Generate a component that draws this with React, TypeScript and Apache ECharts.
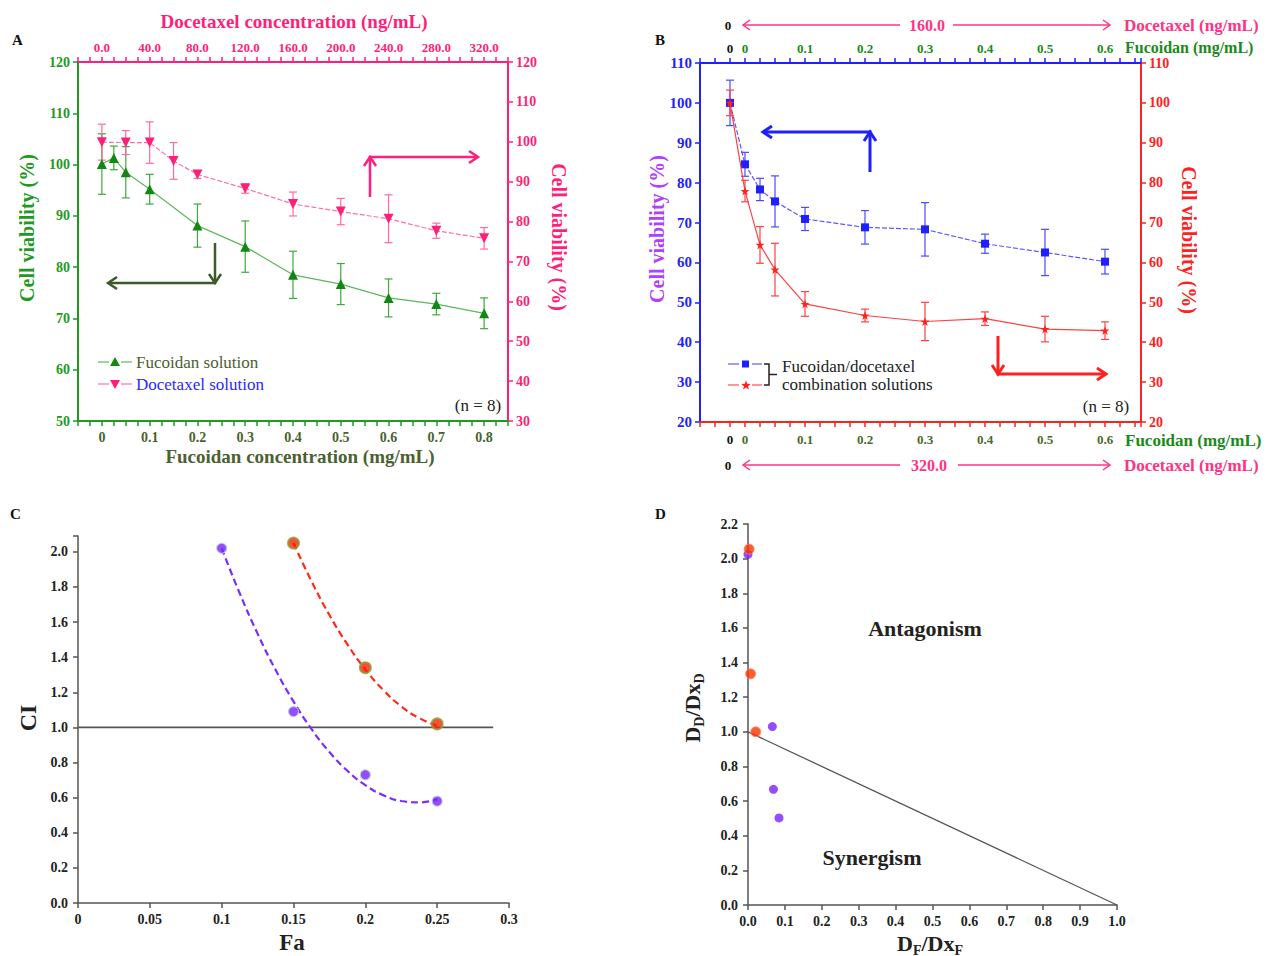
import React, { useEffect, useRef } from 'react';
import * as echarts from 'echarts';

// ---------------- Panel A ----------------
const fucoidanConc = [0, 0.025, 0.05, 0.1, 0.2, 0.3, 0.4, 0.5, 0.6, 0.7, 0.8];
const fucoidanViability = [100.1, 101.3, 98.5, 95.2, 88.1, 84.0, 78.5, 76.7, 74.0, 72.8, 71.0];
const fucoidanSD = [5.9, 2.3, 5.0, 2.9, 4.2, 5.0, 4.6, 4.0, 3.7, 2.1, 3.0];
const docetaxelConc = [0, 20, 40, 60, 80, 120, 160, 200, 240, 280, 320];
const docetaxelViability = [99.9, 99.8, 99.8, 95.2, 91.8, 88.3, 84.4, 82.5, 80.7, 77.7, 75.8];
const docetaxelSD = [4.5, 3.0, 5.2, 4.6, 1.0, 1.2, 3.0, 3.3, 6.0, 1.9, 2.7];

// ---------------- Panel B ----------------
// first position (-0.025) is the untreated control ("0" / "0")
const comboFucoidan = [-0.025, 0, 0.025, 0.05, 0.1, 0.2, 0.3, 0.4, 0.5, 0.6];
const comboLeft = [100, 84.6, 78.3, 75.3, 70.9, 68.8, 68.3, 64.7, 62.5, 60.2];
const comboLeftSD = [5.7, 3.0, 2.8, 6.4, 2.9, 4.2, 6.7, 2.4, 5.8, 3.1];
const comboRight = [100, 77.9, 64.4, 58.2, 49.6, 46.7, 45.2, 45.9, 43.3, 42.9];
const comboRightSD = [3.2, 2.7, 4.6, 6.6, 3.1, 1.6, 4.8, 1.7, 3.2, 2.2];

// ---------------- Panel C ----------------
const faPurple = [0.1, 0.15, 0.2, 0.25];
const ciPurple = [2.02, 1.09, 0.73, 0.58];
const faRed = [0.15, 0.2, 0.25];
const ciRed = [2.05, 1.34, 1.02];
const fitPurpleFa = [0.1, 0.1125, 0.125, 0.1375, 0.15, 0.1625, 0.175, 0.1875, 0.2, 0.2125, 0.225, 0.2375, 0.25];
const fitPurpleCi = [2.02, 1.765, 1.534, 1.328, 1.148, 0.991, 0.86, 0.753, 0.671, 0.614, 0.581, 0.573, 0.59];
const fitRedFa = [0.15, 0.1625, 0.175, 0.1875, 0.2, 0.2125, 0.225, 0.2375, 0.25];
const fitRedCi = [2.05, 1.833, 1.64, 1.473, 1.33, 1.213, 1.12, 1.053, 1.01];
const ciRefFa = [0, 0.289];
const ciRefValue = [1.0, 1.0];

// ---------------- Panel D ----------------
const dRedX = [0.003, 0.007, 0.021];
const dRedY = [2.055, 1.335, 1.0];
const dPurpleX = [0.0, 0.066, 0.069, 0.084];
const dPurpleY = [2.025, 1.03, 0.668, 0.503];
const isoboleX = [0, 1];
const isoboleY = [1, 0];

const SERIF = '"Liberation Serif", "Times New Roman", serif';
const GREEN = '#1f9a1f';
const OLIVE = '#4b6130';
const PINK = '#ff1f7a';
const BLUE = '#1f1fff';
const RED = '#ff2020';
const PURPLE = '#b040ff';
const GRAY = '#555555';

const font = (size: number, bold = true) => `${bold ? 'bold ' : ''}${size}px ${SERIF}`;

const zip = (xs: number[], ys: number[]) => xs.map((x, i) => [x, ys[i]]);

function errorSeries(xs: number[], ys: number[], sd: number[], xi: number, yi: number, color: string) {
  return {
    type: 'custom',
    xAxisIndex: xi,
    yAxisIndex: yi,
    silent: true,
    z: 1,
    data: xs.map((x, i) => [x, ys[i] - sd[i], ys[i] + sd[i]]),
    encode: { x: 0, y: [1, 2] },
    renderItem: (_p: any, api: any) => {
      const lo = api.coord([api.value(0), api.value(1)]);
      const hi = api.coord([api.value(0), api.value(2)]);
      const w = 4;
      const st = { stroke: color, lineWidth: 1.2 };
      return {
        type: 'group',
        children: [
          { type: 'line', shape: { x1: lo[0], y1: lo[1], x2: hi[0], y2: hi[1] }, style: st },
          { type: 'line', shape: { x1: lo[0] - w, y1: lo[1], x2: lo[0] + w, y2: lo[1] }, style: st },
          { type: 'line', shape: { x1: hi[0] - w, y1: hi[1], x2: hi[0] + w, y2: hi[1] }, style: st },
        ],
      };
    },
  };
}

function txt(text: string, x: number, y: number, color: string, f: string, align = 'center', rotation = 0) {
  return {
    type: 'text',
    x,
    y,
    rotation,
    z: 100,
    style: { text, fill: color, font: f, textAlign: align, textVerticalAlign: 'middle' },
  };
}

function head(tx: number, ty: number, dx: number, dy: number, color: string, width: number, L = 9, W = 6) {
  const bx = tx - L * dx;
  const by = ty - L * dy;
  const nx = -dy;
  const ny = dx;
  return {
    type: 'polyline',
    z: 100,
    shape: { points: [[bx + W * nx, by + W * ny], [tx, ty], [bx - W * nx, by - W * ny]] },
    style: { stroke: color, lineWidth: width, fill: null, lineJoin: 'miter' },
  };
}

function pline(points: number[][], color: string, width: number, dash?: number[]) {
  return {
    type: 'polyline',
    z: 100,
    shape: { points },
    style: { stroke: color, lineWidth: width, fill: null, lineDash: dash },
  };
}

function starPoints(cx: number, cy: number, r: number) {
  const pts: number[][] = [];
  for (let i = 0; i < 10; i++) {
    const a = -Math.PI / 2 + (i * Math.PI) / 5;
    const rr = i % 2 === 0 ? r : r * 0.42;
    pts.push([cx + rr * Math.cos(a), cy + rr * Math.sin(a)]);
  }
  return pts;
}

const STAR = 'path://M50,0 L61,35 L98,35 L68,57 L79,91 L50,70 L21,91 L32,57 L2,35 L39,35 Z';

function valueAxis(extra: any, color: string, labelColor: string, fontSize: number, lineWidth = 2) {
  return {
    type: 'value',
    splitLine: { show: false },
    axisLine: { show: true, onZero: false, lineStyle: { color, width: lineWidth } },
    axisTick: { show: true, inside: false, length: 5, lineStyle: { color, width: 1.5 } },
    ...extra,
    axisLabel: {
      color: labelColor,
      fontFamily: SERIF,
      fontWeight: 'bold',
      fontSize,
      margin: 8,
      ...(extra.axisLabel || {}),
    },
  };
}

const fmtA = (v: number) => {
  const r = Math.round(v * 1000);
  if (r < 0 || r % 100 !== 0) return '';
  return r === 0 ? '0' : String(r / 1000);
};
const fmtATop = (v: number) => {
  const r = Math.round(v);
  return r >= 0 && r % 40 === 0 ? r.toFixed(1) : '';
};
const fmtB = (v: number) => {
  const r = Math.round(v * 1000);
  if (r === -25) return '{k|0}';
  if (r < 0 || r % 100 !== 0) return '';
  return '{g|' + (r === 0 ? '0' : String(r / 1000)) + '}';
};
const fmtTenth2 = (v: number) => {
  const r = Math.round(v * 10);
  if (Math.abs(v * 10 - r) > 1e-6 || r % 2 !== 0) return '';
  return (r / 10).toFixed(1);
};

export default function App() {
  const ref = useRef<HTMLDivElement>(null);

  useEffect(() => {
    if (!ref.current) return;
    const chart = echarts.init(ref.current, undefined, { renderer: 'svg' });

    const richB = (g: string) => ({
      k: { color: '#111', fontFamily: SERIF, fontWeight: 'bold', fontSize: 13 },
      g: { color: g, fontFamily: SERIF, fontWeight: 'bold', fontSize: 13 },
    });

    const graphics: any[] = [
      // panel letters
      txt('A', 12, 40, '#111', font(15), 'left'),
      txt('B', 655, 40, '#111', font(15), 'left'),
      txt('C', 10, 514, '#111', font(15), 'left'),
      txt('D', 655, 514, '#111', font(15), 'left'),

      // ---- A titles ----
      txt('Docetaxel concentration (ng/mL)', 294, 21, PINK, font(19)),
      txt('Fucoidan concentration (mg/mL)', 300, 456, OLIVE, font(19)),
      txt('Cell viability (%)', 27, 228, GREEN, font(20), 'center', Math.PI / 2),
      txt('Cell viability (%)', 559, 237, PINK, font(20), 'center', -Math.PI / 2),
      // A legend
      pline([[98, 362], [109, 362]], '#5cb85c', 1.2),
      pline([[121, 362], [132, 362]], '#5cb85c', 1.2),
      { type: 'polygon', z: 100, shape: { points: [[115, 357], [110, 366], [120, 366]] }, style: { fill: '#118811' } },
      txt('Fucoidan solution', 136, 362, OLIVE, font(17, false), 'left'),
      pline([[98, 384], [109, 384]], '#ff70a8', 1.2),
      pline([[121, 384], [132, 384]], '#ff70a8', 1.2),
      { type: 'polygon', z: 100, shape: { points: [[110, 380], [120, 380], [115, 389]] }, style: { fill: PINK } },
      txt('Docetaxel solution', 136, 384, '#2a2aff', font(17, false), 'left'),
      txt('(n = 8)', 478, 405, '#222', font(17, false)),
      // A arrows
      pline([[370, 197], [370, 157], [476, 157]], PINK, 2.5),
      head(370, 157, 0, -1, PINK, 2.5),
      head(478, 157, 1, 0, PINK, 2.5),
      pline([[215, 243], [215, 283], [110, 283]], '#3d5a2a', 2.5),
      head(215, 283, 0, 1, '#3d5a2a', 2.5),
      head(108, 283, -1, 0, '#3d5a2a', 2.5),

      // ---- B titles ----
      txt('Cell viability (%)', 657, 229, PURPLE, font(20), 'center', Math.PI / 2),
      txt('Cell viability (%)', 1189, 240, RED, font(20), 'center', -Math.PI / 2),
      // B top rows
      txt('0', 728, 25, '#111', font(13)),
      pline([[743, 25], [900, 25]], '#ff3385', 1.5),
      head(743, 25, -1, 0, '#ff3385', 1.5, 7, 5),
      txt('160.0', 927, 25, '#ff3385', font(16)),
      pline([[953, 25], [1110, 25]], '#ff3385', 1.5),
      head(1110, 25, 1, 0, '#ff3385', 1.5, 7, 5),
      txt('Docetaxel (ng/mL)', 1124, 25, '#ff3385', font(17), 'left'),
      txt('Fucoidan (mg/mL)', 1125, 47, '#1a8a1a', font(16), 'left'),
      // B bottom rows
      txt('Fucoidan (mg/mL)', 1125, 440, '#1a8a1a', font(17), 'left'),
      txt('0', 728, 465, '#111', font(13)),
      pline([[743, 465], [900, 465]], '#ff3385', 1.5),
      head(743, 465, -1, 0, '#ff3385', 1.5, 7, 5),
      txt('320.0', 929, 465, '#ff3385', font(16)),
      pline([[958, 465], [1110, 465]], '#ff3385', 1.5),
      head(1110, 465, 1, 0, '#ff3385', 1.5, 7, 5),
      txt('Docetaxel (ng/mL)', 1124, 465, '#ff3385', font(17), 'left'),
      // B legend
      pline([[728, 364], [739, 364]], '#5a5aff', 1.2),
      pline([[752, 364], [762, 364]], '#5a5aff', 1.2),
      { type: 'rect', z: 100, shape: { x: 742, y: 360.5, width: 7, height: 7 }, style: { fill: BLUE } },
      pline([[728, 385], [739, 385]], '#ff5050', 1.2),
      pline([[752, 385], [762, 385]], '#ff5050', 1.2),
      { type: 'polygon', z: 100, shape: { points: starPoints(746, 385.5, 5) }, style: { fill: RED } },
      pline([[764, 364], [769, 364], [769, 385], [764, 385]], '#222', 1.5),
      pline([[769, 374.5], [777, 374.5]], '#222', 1.5),
      txt('Fucoidan/docetaxel', 782, 366, '#222', font(17, false), 'left'),
      txt('combination solutions', 782, 384, '#222', font(17, false), 'left'),
      txt('(n = 8)', 1106, 406, '#222', font(17, false)),
      // B arrows
      pline([[870, 172], [870, 132], [765, 132]], BLUE, 3),
      head(870, 132, 0, -1, BLUE, 3),
      head(763, 132, -1, 0, BLUE, 3),
      pline([[998, 336], [998, 374], [1104, 374]], RED, 3),
      head(998, 374, 0, 1, RED, 3),
      head(1106, 374, 1, 0, RED, 3),

      // ---- C titles ----
      txt('CI', 28, 718, '#222', font(24), 'center', Math.PI / 2),
      txt('Fa', 292, 942, '#222', font(23)),

      // ---- D titles ----
      {
        type: 'text',
        x: 692,
        y: 708,
        rotation: Math.PI / 2,
        z: 100,
        style: {
          text: '{a|D}{b|D}{a|/Dx}{b|D}',
          textAlign: 'center',
          textVerticalAlign: 'middle',
          rich: {
            a: { fill: '#222', fontFamily: SERIF, fontWeight: 'bold', fontSize: 22, lineHeight: 28, verticalAlign: 'middle' },
            b: { fill: '#222', fontFamily: SERIF, fontWeight: 'bold', fontSize: 14, lineHeight: 14, verticalAlign: 'bottom' },
          },
        },
      },
      {
        type: 'text',
        x: 930,
        y: 943,
        z: 100,
        style: {
          text: '{a|D}{b|F}{a|/Dx}{b|F}',
          textAlign: 'center',
          textVerticalAlign: 'middle',
          rich: {
            a: { fill: '#222', fontFamily: SERIF, fontWeight: 'bold', fontSize: 22, lineHeight: 28, verticalAlign: 'middle' },
            b: { fill: '#222', fontFamily: SERIF, fontWeight: 'bold', fontSize: 14, lineHeight: 14, verticalAlign: 'bottom' },
          },
        },
      },
      txt('Antagonism', 925, 628, '#222', font(22)),
      txt('Synergism', 872, 857, '#222', font(22)),
    ];

    const option: any = {
      animation: false,
      backgroundColor: '#ffffff',
      grid: [
        { left: 78, top: 62, width: 430, height: 359 },
        { left: 700, top: 63, width: 441, height: 359 },
        { left: 78, top: 536, width: 431, height: 367 },
        { left: 748, top: 524, width: 369, height: 381 },
      ],
      xAxis: [
        valueAxis({ gridIndex: 0, position: 'bottom', min: -0.05, max: 0.85, interval: 0.025, axisLabel: { formatter: fmtA, margin: 9 } }, GREEN, OLIVE, 14),
        valueAxis({ gridIndex: 0, position: 'top', min: -20, max: 340, interval: 10, axisLabel: { formatter: fmtATop, margin: 8 } }, PINK, PINK, 13),
        valueAxis({ gridIndex: 1, position: 'bottom', min: -0.075, max: 0.66, interval: 0.025, axisLabel: { formatter: fmtB, rich: richB('#4b6a2b'), margin: 11 } }, RED, '#4b6a2b', 13),
        valueAxis({ gridIndex: 1, position: 'top', min: -0.075, max: 0.66, interval: 0.025, axisLabel: { formatter: fmtB, rich: richB('#1a8a1a'), margin: 8 } }, BLUE, '#1a8a1a', 13),
        valueAxis({ gridIndex: 2, position: 'bottom', min: 0, max: 0.3, interval: 0.05, axisLabel: { formatter: (v: number) => (v === 0 ? '0' : String(+v.toFixed(2))), margin: 9 } }, GRAY, '#222', 14, 1.5),
        valueAxis({ gridIndex: 3, position: 'bottom', min: 0, max: 1, interval: 0.1, axisLabel: { formatter: (v: number) => v.toFixed(1), margin: 9 } }, GRAY, '#222', 14, 1.5),
      ],
      yAxis: [
        valueAxis({ gridIndex: 0, position: 'left', min: 50, max: 120, interval: 10 }, GREEN, GREEN, 14),
        valueAxis({ gridIndex: 0, position: 'right', min: 30, max: 120, interval: 10 }, PINK, PINK, 14),
        valueAxis({ gridIndex: 1, position: 'left', min: 20, max: 110, interval: 10 }, BLUE, BLUE, 15),
        valueAxis({ gridIndex: 1, position: 'right', min: 20, max: 110, interval: 10 }, RED, RED, 14),
        valueAxis({ gridIndex: 2, position: 'left', min: 0, max: 2.09, interval: 0.2, axisLabel: { formatter: fmtTenth2, margin: 10 } }, GRAY, '#222', 14, 1.5),
        valueAxis({ gridIndex: 3, position: 'left', min: 0, max: 2.2, interval: 0.2, axisLabel: { formatter: (v: number) => v.toFixed(1), margin: 10 } }, GRAY, '#222', 14, 1.5),
      ],
      series: [
        // Panel A
        errorSeries(fucoidanConc, fucoidanViability, fucoidanSD, 0, 0, '#3da83d'),
        errorSeries(docetaxelConc, docetaxelViability, docetaxelSD, 1, 1, '#ff6aa0'),
        {
          type: 'line', xAxisIndex: 0, yAxisIndex: 0, z: 3,
          data: zip(fucoidanConc, fucoidanViability),
          symbol: 'triangle', symbolSize: 10,
          itemStyle: { color: '#118811' },
          lineStyle: { color: '#5cb85c', width: 1.2 },
        },
        {
          type: 'line', xAxisIndex: 1, yAxisIndex: 1, z: 3,
          data: zip(docetaxelConc, docetaxelViability),
          symbol: 'triangle', symbolRotate: 180, symbolSize: 10,
          itemStyle: { color: PINK },
          lineStyle: { color: '#ff70a8', width: 1.2, type: [5, 2] },
        },
        // Panel B
        errorSeries(comboFucoidan, comboLeft, comboLeftSD, 2, 2, '#4a4aff'),
        errorSeries(comboFucoidan, comboRight, comboRightSD, 2, 3, '#ff4040'),
        {
          type: 'line', xAxisIndex: 2, yAxisIndex: 2, z: 3,
          data: zip(comboFucoidan, comboLeft),
          symbol: 'rect', symbolSize: 8,
          itemStyle: { color: BLUE },
          lineStyle: { color: '#5a5aff', width: 1.2, type: [5, 2] },
        },
        {
          type: 'line', xAxisIndex: 2, yAxisIndex: 3, z: 4,
          data: zip(comboFucoidan, comboRight),
          symbol: STAR, symbolSize: 9,
          itemStyle: { color: RED },
          lineStyle: { color: '#ff4040', width: 1.2 },
        },
        // Panel C
        {
          type: 'line', xAxisIndex: 4, yAxisIndex: 4, z: 2,
          data: zip(ciRefFa, ciRefValue),
          symbol: 'none',
          lineStyle: { color: GRAY, width: 1.8 },
        },
        {
          type: 'line', xAxisIndex: 4, yAxisIndex: 4, z: 2, smooth: true,
          data: zip(fitPurpleFa, fitPurpleCi),
          symbol: 'none',
          lineStyle: { color: '#7a2cff', width: 2.2, type: [7, 4] },
        },
        {
          type: 'line', xAxisIndex: 4, yAxisIndex: 4, z: 2, smooth: true,
          data: zip(fitRedFa, fitRedCi),
          symbol: 'none',
          lineStyle: { color: '#ff2a1a', width: 2.2, type: [7, 4] },
        },
        {
          type: 'scatter', xAxisIndex: 4, yAxisIndex: 4, z: 5,
          data: zip(faPurple, ciPurple),
          symbolSize: 10,
          itemStyle: { color: '#7b1fff', borderColor: '#b8c8e0', borderWidth: 1.2 },
        },
        {
          type: 'scatter', xAxisIndex: 4, yAxisIndex: 4, z: 5,
          data: zip(faRed, ciRed),
          symbolSize: 11,
          itemStyle: { color: '#ff2200', borderColor: '#8c9a3c', borderWidth: 2 },
        },
        // Panel D
        {
          type: 'line', xAxisIndex: 5, yAxisIndex: 5, z: 2,
          data: zip(isoboleX, isoboleY),
          symbol: 'none',
          lineStyle: { color: GRAY, width: 1.3 },
        },
        {
          type: 'scatter', xAxisIndex: 5, yAxisIndex: 5, z: 5,
          data: zip(dPurpleX, dPurpleY),
          symbolSize: 9,
          itemStyle: { color: '#7b22ff' },
        },
        {
          type: 'scatter', xAxisIndex: 5, yAxisIndex: 5, z: 6,
          data: zip(dRedX, dRedY),
          symbolSize: 10,
          itemStyle: { color: '#ff3300', borderColor: '#ff8a5a', borderWidth: 1 },
        },
      ],
      graphic: graphics,
    };

    chart.setOption(option);
    return () => chart.dispose();
  }, []);

  return (
    <div
      ref={ref}
      style={{ position: 'fixed', left: 0, top: 0, width: 1266, height: 956, background: '#fff' }}
    />
  );
}
